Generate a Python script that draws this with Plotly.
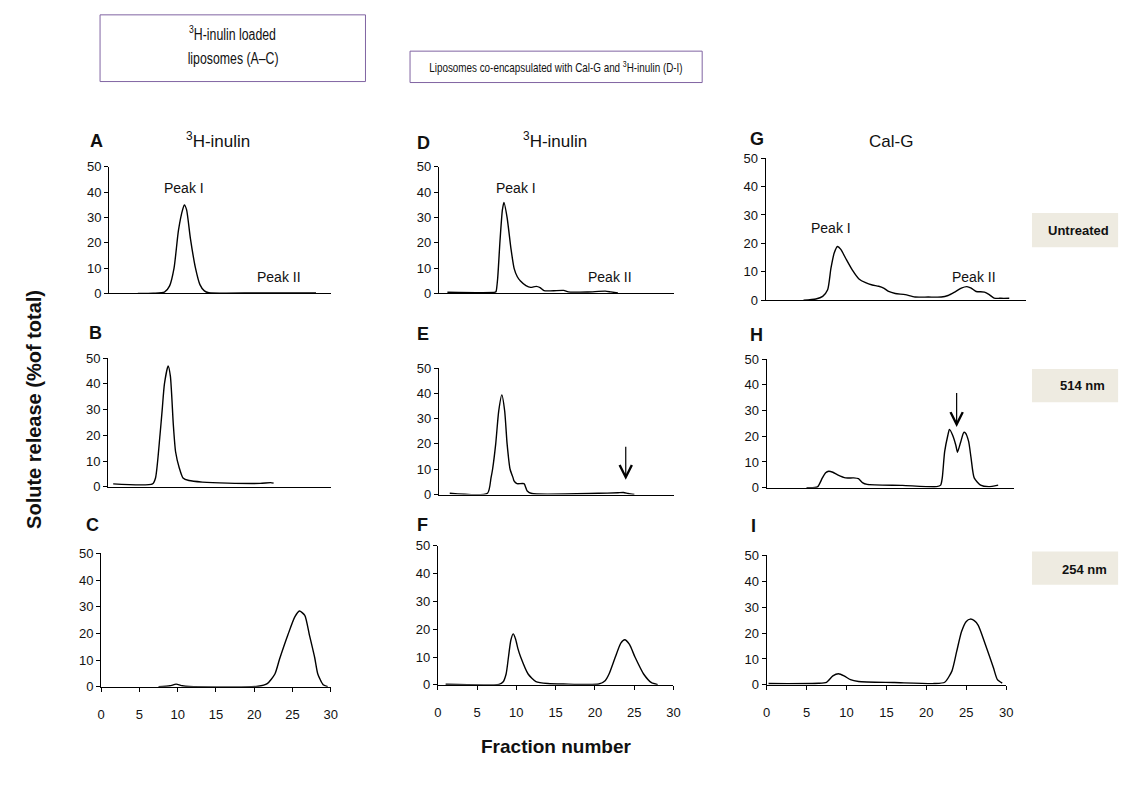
import plotly.graph_objects as go

W, H = 1138, 789

# ---------------- data (fraction number vs solute release %) ----------------
A_x = [3.9, 6.0, 7.5, 8.2, 8.8, 9.4, 10.0, 10.2, 10.5, 11.0, 11.7, 12.3, 12.9, 13.5, 20.0, 28.0]
A_y = [0.0, 0.1, 0.5, 3.0, 10.0, 25.0, 33.5, 35.0, 33.0, 22.0, 10.0, 3.5, 1.0, 0.3, 0.2, 0.2]

B_x = [0.7, 6.0, 6.4, 7.0, 7.3, 7.6, 8.1, 8.4, 8.8, 9.1, 9.6, 10.1, 10.9, 12.7, 16.1, 20.5, 21.9, 22.3]
B_y = [1.1, 1.1, 3.4, 20.0, 30.0, 40.0, 47.0, 43.0, 24.0, 13.6, 7.3, 3.4, 2.4, 1.8, 1.4, 1.3, 1.6, 1.4]

C_x = [7.5, 9.0, 9.8, 10.6, 11.5, 20.5, 21.7, 22.7, 23.3, 24.4, 25.3, 25.9, 26.6, 27.2, 27.9, 28.3, 29.0, 29.6]
C_y = [0.0, 0.4, 1.0, 0.4, 0.1, 0.2, 1.2, 4.8, 10.3, 19.5, 26.2, 28.4, 26.8, 19.5, 10.9, 4.8, 0.8, 0.1]

D_x = [1.1, 7.2, 7.3, 7.5, 7.8, 8.1, 8.3, 8.7, 9.2, 9.6, 10.0, 10.4, 11.1, 11.7, 12.4, 12.9, 13.4, 14.0,
       15.9, 16.5, 19.0, 21.2, 21.9, 22.8]
D_y = [0.5, 0.5, 0.8, 6.0, 21.0, 33.0, 36.0, 30.0, 17.5, 9.8, 6.6, 4.9, 3.1, 2.4, 2.8, 2.3, 1.1, 1.0,
       1.2, 0.6, 0.6, 0.9, 0.6, 0.2]

E_x = [1.4, 6.2, 6.65, 6.85, 7.25, 7.63, 8.03, 8.39, 8.7, 9.08, 9.46, 9.58, 9.96, 10.85, 11.26, 11.85,
       20.3, 22.8, 23.5, 24.1, 24.9]
E_y = [0.5, 0.5, 6.6, 10.0, 20.0, 33.0, 39.4, 33.0, 20.0, 10.0, 6.6, 5.4, 4.3, 4.3, 1.4, 0.4,
       0.5, 0.7, 0.8, 0.4, 0.0]

F_x = [1.0, 7.8, 8.3, 8.7, 9.0, 9.3, 9.6, 9.9, 10.2, 10.55, 11.5, 12.5, 14.0, 16.0, 20.5, 21.3, 21.8,
       22.6, 23.3, 23.8, 24.4, 25.1, 26.2, 27.2, 28.0]
F_y = [0.2, 0.2, 1.0, 3.9, 10.0, 16.0, 18.3, 16.5, 13.0, 10.0, 3.9, 1.2, 0.5, 0.3, 0.3, 1.5, 3.9,
       10.0, 15.0, 16.2, 14.5, 10.0, 3.9, 0.8, 0.1]

G_x = [4.75, 6.3, 7.15, 7.77, 8.18, 8.59, 9.0, 9.42, 10.04, 10.87, 11.69, 12.52, 13.35, 14.16, 14.78,
       15.4, 16.23, 17.47, 18.7, 20.36, 22.0, 22.84, 23.67, 24.5, 25.2, 25.74, 26.36, 27.4, 28.0, 28.6,
       29.45, 30.5]
G_y = [0.0, 0.46, 1.4, 3.7, 11.2, 16.6, 18.9, 17.9, 14.7, 10.6, 7.5, 6.2, 5.4, 4.95, 4.3,
       3.1, 2.4, 2.0, 1.15, 1.15, 1.15, 1.7, 2.9, 4.26, 4.8, 4.26, 3.1, 2.9, 2.0, 0.8,
       0.7, 0.7]

H_x = [5.0, 6.37, 6.99, 7.4, 7.78, 8.3, 8.9, 9.9, 10.9, 11.5, 12.0, 12.6, 17.0, 21.3, 21.8, 22.0, 22.3,
       22.7, 22.9, 23.3, 23.7, 23.9, 24.3, 24.7, 24.9, 25.3, 25.6, 26.0, 26.8, 27.8, 29.0]
H_y = [0.0, 0.3, 3.8, 5.8, 6.4, 6.0, 5.0, 3.8, 3.8, 3.5, 2.0, 1.3, 0.9, 0.4, 1.0, 3.8, 14.0,
       20.4, 22.7, 20.4, 16.5, 13.8, 17.7, 21.5, 21.3, 18.0, 11.7, 3.8, 1.0, 0.4, 1.0]

I_x = [0.25, 6.5, 7.5, 8.3, 9.0, 9.7, 10.5, 11.5, 16.0, 21.0, 22.3, 23.2, 23.8, 24.4, 25.0, 25.5, 26.0,
       26.5, 27.4, 28.4, 28.9, 29.5]
I_y = [0.5, 0.6, 1.0, 3.5, 4.3, 3.5, 2.0, 1.3, 0.9, 0.5, 1.0, 5.3, 12.9, 20.5, 24.5, 25.4, 24.8,
       23.0, 15.5, 6.6, 2.0, 0.7]

# arrows marking Peak II region (E and H): x, tail y, tip y
E_arrow = [23.8, 19.5, 5.8]
H_arrow = [23.8, 37.4, 23.6]

y_ticks = [0, 10, 20, 30, 40, 50]
x_ticks = [0, 5, 10, 15, 20, 25, 30]

panel_letters = ["A", "B", "C", "D", "E", "F", "G", "H", "I"]
series = [(A_x, A_y), (B_x, B_y), (C_x, C_y), (D_x, D_y), (E_x, E_y), (F_x, F_y),
          (G_x, G_y), (H_x, H_y), (I_x, I_y)]

# ---------------- layout geometry (pixels) ----------------
# left, right, y(0), y(50), xmax, show x ticks
geom = {
    "A": (106, 330, 292, 163, 30, False),
    "B": (105, 330, 489, 358, 30, False),
    "C": (98, 330, 693, 557, 30, True),
    "D": (439, 677, 292, 163, 30, False),
    "E": (439, 677, 497, 368, 30, False),
    "F": (438, 676, 691, 549, 30, True),
    "G": (769, 1032, 299, 154, 32.6, False),
    "H": (770, 1020, 490, 359, 31.0, False),
    "I": (770, 1012, 691, 559, 30, True),
}

FONT = "Liberation Sans, Arial, sans-serif"
fig = go.Figure()
layout = dict(width=W, height=H, margin=dict(l=0, r=0, t=0, b=0),
              paper_bgcolor="white", plot_bgcolor="white", showlegend=False,
              font=dict(family=FONT, color="#111111"))

for i, (letter, (xs, ys)) in enumerate(zip(panel_letters, series)):
    n = "" if i == 0 else str(i + 1)
    left, right, y0, y50, xmax, xt = geom[letter]
    fig.add_trace(go.Scatter(x=xs, y=ys, mode="lines", xaxis="x" + n, yaxis="y" + n,
                             line=dict(color="black", width=1.4, shape="spline", smoothing=0.6),
                             hoverinfo="skip"))
    xa = dict(domain=[left / W, right / W], range=[0, xmax], anchor="y" + n,
              showgrid=False, zeroline=False, showline=True, linecolor="black",
              linewidth=1, showticklabels=xt, fixedrange=True)
    if xt:
        xa.update(tickvals=x_ticks, ticks="outside", ticklen=4, tickcolor="black",
                  ticklabelstandoff=12, tickfont=dict(size=13, family=FONT))
    else:
        xa.update(ticks="", tickvals=[])
    layout["xaxis" + n] = xa
    layout["yaxis" + n] = dict(domain=[1 - y0 / H, 1 - y50 / H], range=[0, 50], anchor="x" + n,
                               showgrid=False, zeroline=False, showline=True, linecolor="black",
                               linewidth=1, tickvals=y_ticks, ticks="outside", ticklen=4,
                               tickcolor="black", tickfont=dict(size=13, family=FONT),
                               fixedrange=True)

fig.update_layout(**layout)

anns = []


def txt(text, px, py, size, bold=False, xanchor="center", yanchor="middle", angle=0):
    t = f"<b>{text}</b>" if bold else text
    anns.append(dict(text=t, x=px / W, y=1 - py / H, xref="paper", yref="paper",
                     xanchor=xanchor, yanchor=yanchor, showarrow=False, textangle=angle,
                     font=dict(size=size, family=FONT, color="#111111")))


# panel letters
letter_pos = {"A": (85, 137), "B": (84, 332), "C": (81, 528), "D": (415, 139), "E": (415, 333),
              "F": (415, 528), "G": (751, 135), "H": (751, 334), "I": (752, 529)}
for k, (px, py) in letter_pos.items():
    txt(k, px, py, 18, bold=True, xanchor="left")

# column titles
txt("<sup>3</sup>H-inulin", 216, 136, 17)
txt("<sup>3</sup>H-inulin", 556, 136, 17)
txt("Cal-G", 896, 137, 17)

# peak labels
txt("Peak I", 182, 185, 14)
txt("Peak II", 278, 275, 14)
txt("Peak I", 517, 185, 14)
txt("Peak II", 612, 275, 14)
txt("Peak I", 835, 225, 14)
txt("Peak II", 979, 275, 14)

# top boxes (condensed face emulated below)
txt("<sup>3</sup>H-inulin loaded", 231, 27, 16)
txt("liposomes (A–C)", 231, 53, 16)
txt("Liposomes co-encapsulated with Cal-G and <sup>3</sup>H-inulin (D-I)", 557, 61, 13)

# treatment labels
txt("Untreated", 1085, 228, 13, bold=True)
txt("514 nm", 1089, 386, 13, bold=True)
txt("254 nm", 1091, 573, 13, bold=True)

# axis titles
txt("Solute release (%of total)", 30, 410, 20, bold=True, angle=-90)
txt("Fraction number", 558, 754, 19, bold=True)

# arrows
for (ax_name, arr) in (("5", E_arrow), ("8", H_arrow)):
    anns.append(dict(x=arr[0], y=arr[2], ax=arr[0], ay=arr[1], xref="x" + ax_name,
                     yref="y" + ax_name, axref="x" + ax_name, ayref="y" + ax_name,
                     showarrow=True, arrowhead=5, arrowsize=2, arrowwidth=1.2,
                     arrowcolor="black", text=""))

shapes = [
    dict(type="rect", xref="paper", yref="paper", x0=97 / W, x1=365 / W, y0=1 - 76 / H, y1=1 - 8 / H,
         line=dict(color="#8064A2", width=1), fillcolor="rgba(0,0,0,0)"),
    dict(type="rect", xref="paper", yref="paper", x0=410 / W, x1=705 / W, y0=1 - 77 / H, y1=1 - 45 / H,
         line=dict(color="#8064A2", width=1), fillcolor="rgba(0,0,0,0)"),
]
for (y_top, y_bot) in ((210, 245), (369, 403), (555, 589)):
    shapes.append(dict(type="rect", xref="paper", yref="paper", x0=1038 / W, x1=1125 / W,
                       y0=1 - y_bot / H, y1=1 - y_top / H, line=dict(width=0),
                       fillcolor="#EEEBE1", layer="below"))

fig.update_layout(annotations=anns, shapes=shapes)

post = """
document.body.style.margin='0';
document.body.style.overflow='hidden';
document.querySelectorAll('.annotation-text').forEach(function(t){
  var s = t.textContent || '';
  var k = null;
  if (s.indexOf('Liposomes co-encapsulated') === 0) { k = 0.76; }
  else if (s.indexOf('H-inulin loaded') >= 0 || s.indexOf('liposomes (') === 0) { k = 0.77; }
  if (k) {
    t.style.transformBox = 'fill-box';
    t.style.transformOrigin = 'center';
    t.style.transform = 'scaleX(' + k + ')';
  }
});
"""
fig.write_html("out.html", config={"displayModeBar": False, "staticPlot": True}, post_script=post)
